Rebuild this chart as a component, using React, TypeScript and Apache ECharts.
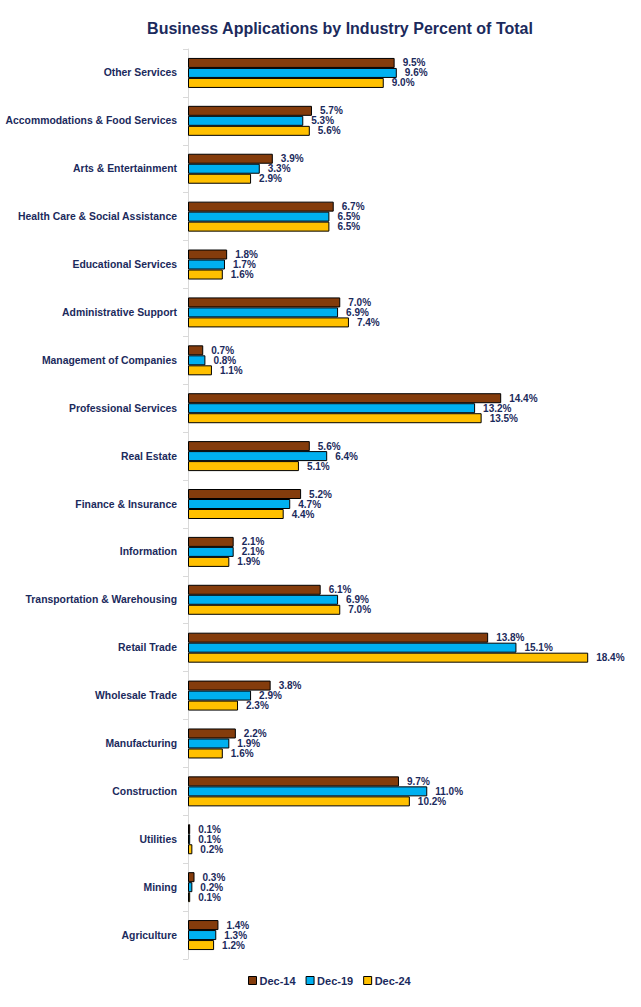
import React, { useEffect, useRef } from "react";
import * as echarts from "echarts";

const categories = [
  "Other Services",
  "Accommodations & Food Services",
  "Arts & Entertainment",
  "Health Care & Social Assistance",
  "Educational Services",
  "Administrative Support",
  "Management of Companies",
  "Professional Services",
  "Real Estate",
  "Finance & Insurance",
  "Information",
  "Transportation & Warehousing",
  "Retail Trade",
  "Wholesale Trade",
  "Manufacturing",
  "Construction",
  "Utilities",
  "Mining",
  "Agriculture",
];

const dec14 = [9.5, 5.7, 3.9, 6.7, 1.8, 7.0, 0.7, 14.4, 5.6, 5.2, 2.1, 6.1, 13.8, 3.8, 2.2, 9.7, 0.1, 0.3, 1.4];
const dec19 = [9.6, 5.3, 3.3, 6.5, 1.7, 6.9, 0.8, 13.2, 6.4, 4.7, 2.1, 6.9, 15.1, 2.9, 1.9, 11.0, 0.1, 0.2, 1.3];
const dec24 = [9.0, 5.6, 2.9, 6.5, 1.6, 7.4, 1.1, 13.5, 5.1, 4.4, 1.9, 7.0, 18.4, 2.3, 1.6, 10.2, 0.2, 0.1, 1.2];

const seriesNames = ["Dec-14", "Dec-19", "Dec-24"];
const colors = ["#843C0C", "#00B0F0", "#FFC000"];

const NAVY = "#1B2A5C";
const FONT = "'Liberation Sans', Arial, sans-serif";

export default function App() {
  const ref = useRef<HTMLDivElement>(null);
  useEffect(() => {
    document.body.style.margin = "0";
    const chart = echarts.init(ref.current!, null, { renderer: "svg" });
    const datasets = [dec14, dec19, dec24];
    chart.setOption({
      animation: false,
      backgroundColor: "#ffffff",
      title: {
        text: "Business Applications by Industry Percent of Total",
        left: 335,
        textAlign: "center",
        top: 15,
        textStyle: { color: NAVY, fontSize: 16, fontWeight: "bold", fontFamily: FONT },
      },
      legend: {
        bottom: 16,
        left: 243,
        itemWidth: 8,
        itemHeight: 8,
        itemGap: 10,
        icon: "rect",
        textStyle: { color: NAVY, fontSize: 11, fontWeight: "bold", fontFamily: FONT, padding: [0, 0, 0, -2] },
        data: seriesNames.map((n, i) => ({
          name: n,
          itemStyle: { color: colors[i], borderColor: "#000", borderWidth: 1 },
        })),
      },
      grid: { left: 188, right: 18, top: 49, bottom: 48, containLabel: false },
      xAxis: {
        type: "value",
        min: 0,
        max: 20,
        show: false,
      },
      yAxis: {
        type: "category",
        data: categories,
        inverse: true,
        axisLine: { show: true, lineStyle: { color: "#D9D9D9", width: 1 } },
        axisTick: { show: true, length: 5, lineStyle: { color: "#D9D9D9" } },
        axisLabel: {
          color: NAVY,
          fontSize: 10.4,
          fontWeight: "bold",
          fontFamily: FONT,
          margin: 11,
        },
      },
      series: seriesNames.map((n, i) => ({
        name: n,
        type: "bar",
        data: datasets[i],
        barWidth: 10,
        barGap: "0%",
        itemStyle: { color: colors[i], borderColor: "#000", borderWidth: 1 },
        label: {
          show: true,
          position: "right",
          distance: 8,
          formatter: (p: any) => p.value.toFixed(1) + "%",
          color: NAVY,
          fontSize: 10,
          fontWeight: "bold",
          fontFamily: FONT,
        },
      })),
    });
    return () => chart.dispose();
  }, []);
  return (
    <div
      ref={ref}
      style={{ position: "absolute", left: 0, top: 0, width: 641, height: 1007 }}
    />
  );
}
